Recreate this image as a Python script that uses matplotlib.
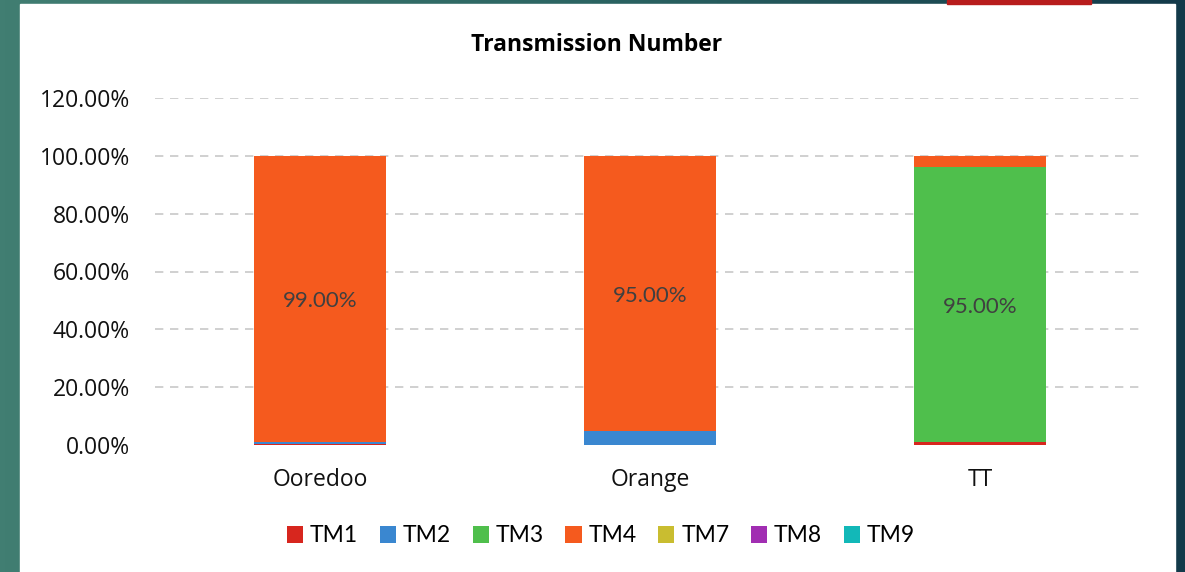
import numpy as np
import matplotlib
matplotlib.use("Agg")
import matplotlib.pyplot as plt
from matplotlib.patches import Rectangle, Patch
from matplotlib.ticker import FuncFormatter
from matplotlib.colors import LinearSegmentedColormap

# chart data (percent)
categories = ["Ooredoo", "Orange", "TT"]
series_names = ["TM1", "TM2", "TM3", "TM4", "TM7", "TM8", "TM9"]
tm1 = [0.4, 0.0, 1.0]
tm2 = [0.6, 5.0, 0.0]
tm3 = [0.0, 0.0, 95.0]
tm4 = [99.0, 95.0, 4.0]
tm7 = [0.0, 0.0, 0.0]
tm8 = [0.0, 0.0, 0.0]
tm9 = [0.0, 0.0, 0.0]
y_ticks = [0, 20, 40, 60, 80, 100, 120]

colors = ["#d7261e", "#3a87d0", "#4fbf4c", "#f55a1e", "#c9bd30", "#a12eb2", "#12b8b8"]
series = [tm1, tm2, tm3, tm4, tm7, tm8, tm9]

W, H = 1185, 572
fig = plt.figure(figsize=(W / 100, H / 100), dpi=100)

# slide background: teal gradient, white card, red tab
bg = fig.add_axes([0, 0, 1, 1], zorder=-10)
cmap = LinearSegmentedColormap.from_list("bg", ["#417e72", "#2b6462", "#133a4a"])
bg.imshow(np.linspace(0, 1, 256).reshape(1, -1), aspect="auto", cmap=cmap,
          extent=[0, 1, 0, 1])
bg.add_patch(Rectangle((20 / W, 0), 1155 / W, (H - 4) / H, color="white",
                       transform=bg.transAxes))
bg.add_patch(Rectangle((947 / W, (H - 4) / H), 144 / W, 4 / H, color="#b81c1c",
                       transform=bg.transAxes))
bg.set_xlim(0, 1)
bg.set_ylim(0, 1)
bg.axis("off")

ax = fig.add_axes([155 / W, (H - 445) / H, 990 / W, 347 / H])
ax.set_facecolor("none")

x = np.arange(len(categories))
bottom = np.zeros(len(categories))
for name, vals, c in zip(series_names, series, colors):
    vals = np.array(vals)
    ax.bar(x, vals, width=0.4, bottom=bottom, color=c, label=name, zorder=3)
    for xi, b, v in zip(x, bottom, vals):
        if v >= 50:
            ax.text(xi, b + v / 2 - 0.8, f"{v:.2f}%", ha="center", va="center",
                    fontsize=16, color="#404040", family="Lato", zorder=4)
    bottom += vals

ax.set_xlim(-0.5, 2.5)
ax.set_ylim(0, 120)
ax.set_yticks(y_ticks)
ax.yaxis.set_major_formatter(FuncFormatter(lambda v, p: f"{v:.2f}%"))
ax.set_xticks(x)
ax.set_xticklabels(categories)
for lbl in ax.get_yticklabels():
    lbl.set_family("Open Sans")
    lbl.set_fontsize(16.5)
    lbl.set_color("#111111")
for lbl in ax.get_xticklabels():
    lbl.set_family("Open Sans")
    lbl.set_fontsize(16.5)
    lbl.set_color("#111111")
ax.tick_params(axis="y", length=0, pad=18)
ax.tick_params(axis="x", length=0, pad=16.5)
for s in ax.spines.values():
    s.set_visible(False)
for t in y_ticks[1:]:
    ax.axhline(t, color="#c8c8c8", lw=1.2, ls=(0, (5, 4)), zorder=1)

fig.text(597 / W, 1 - 45 / H, "Transmission Number", ha="center", va="center",
         fontsize=16.5, fontweight="bold", family="Open Sans", color="black")

handles = [Patch(facecolor=c, label=n) for n, c in zip(series_names, colors)]
fig.legend(handles=handles, loc="center", bbox_to_anchor=(601 / W, 1 - 536 / H),
           ncol=7, frameon=False, handlelength=0.7, handleheight=0.7,
           handletextpad=0.3, columnspacing=0.95,
           prop={"family": "Lato", "size": 16.5})

fig.savefig("out.png", dpi=100)
